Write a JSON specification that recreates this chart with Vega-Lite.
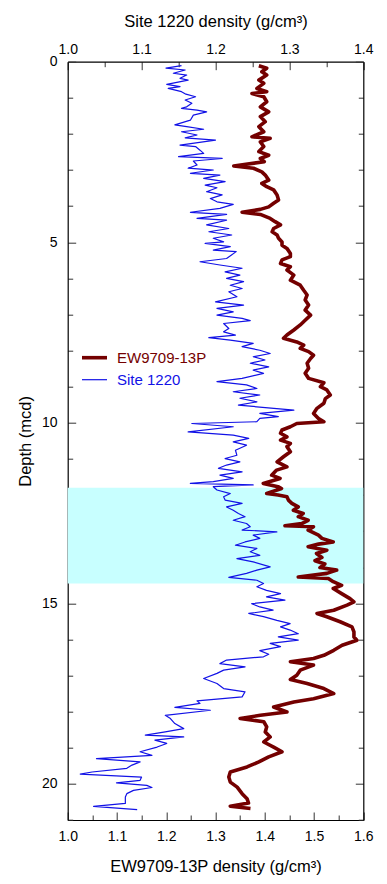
{
  "$schema": "https://vega.github.io/schema/vega-lite/v6.json",
  "width": 295.6,
  "height": 758.3,
  "autosize": "none",
  "padding": {"left": 67.7, "top": 61.7, "right": 23.7, "bottom": 64},
  "config": {
    "font": "Liberation Sans",
    "view": {"stroke": null},
    "axis": {
      "domainColor": "#000", "domainWidth": 1.2, "tickColor": "#333", "tickWidth": 1,
      "labelFont": "Liberation Sans", "labelFontSize": 14, "labelColor": "#000",
      "titleFont": "Liberation Sans", "titleFontSize": 16.5, "titleFontWeight": "normal", "titleColor": "#000",
      "grid": false, "labelFlush": false, "labelOverlap": false, "zindex": 1
    },
    "legend": {
      "orient": "none", "legendX": 12.3, "legendY": 281.5, "title": null,
      "symbolType": "stroke", "symbolSize": 625, "labelFont": "Liberation Sans", "labelFontSize": 15,
      "labelOffset": 8, "rowPadding": -1, "padding": 0
    }
  },
  "datasets": {
    "ew": [
      {"depth":0.11,"density":1.388},{"depth":0.18,"density":1.404},{"depth":0.28,"density":1.394},{"depth":0.37,"density":1.404},{"depth":0.51,"density":1.388},{"depth":0.60,"density":1.398},{"depth":0.74,"density":1.384},{"depth":0.83,"density":1.404},{"depth":0.88,"density":1.374},{"depth":0.97,"density":1.398},
      {"depth":1.11,"density":1.404},{"depth":1.25,"density":1.391},{"depth":1.39,"density":1.408},{"depth":1.52,"density":1.391},{"depth":1.66,"density":1.401},{"depth":1.80,"density":1.388},{"depth":1.94,"density":1.398},{"depth":2.08,"density":1.374},{"depth":2.12,"density":1.411},{"depth":2.22,"density":1.391},
      {"depth":2.35,"density":1.398},{"depth":2.49,"density":1.388},{"depth":2.59,"density":1.408},{"depth":2.68,"density":1.391},{"depth":2.77,"density":1.399},{"depth":2.89,"density":1.337},{"depth":2.95,"density":1.377},{"depth":3.05,"density":1.394},{"depth":3.14,"density":1.401},{"depth":3.28,"density":1.408},
      {"depth":3.37,"density":1.394},{"depth":3.46,"density":1.404},{"depth":3.55,"density":1.418},{"depth":3.69,"density":1.425},{"depth":3.83,"density":1.428},{"depth":3.92,"density":1.418},{"depth":4.02,"density":1.408},{"depth":4.09,"density":1.391},{"depth":4.17,"density":1.354},{"depth":4.23,"density":1.391},
      {"depth":4.34,"density":1.411},{"depth":4.43,"density":1.421},{"depth":4.52,"density":1.432},{"depth":4.62,"density":1.418},{"depth":4.71,"density":1.415},{"depth":4.80,"density":1.425},{"depth":4.89,"density":1.428},{"depth":4.99,"density":1.435},{"depth":5.08,"density":1.435},{"depth":5.17,"density":1.445},
      {"depth":5.31,"density":1.452},{"depth":5.40,"density":1.452},{"depth":5.49,"density":1.435},{"depth":5.59,"density":1.432},{"depth":5.68,"density":1.452},{"depth":5.77,"density":1.445},{"depth":5.91,"density":1.459},{"depth":6.05,"density":1.452},{"depth":6.19,"density":1.472},{"depth":6.33,"density":1.479},
      {"depth":6.46,"density":1.486},{"depth":6.60,"density":1.482},{"depth":6.74,"density":1.489},{"depth":6.88,"density":1.482},{"depth":7.02,"density":1.493},{"depth":7.16,"density":1.482},{"depth":7.29,"density":1.472},{"depth":7.43,"density":1.459},{"depth":7.57,"density":1.445},{"depth":7.66,"density":1.438},
      {"depth":7.76,"density":1.465},{"depth":7.85,"density":1.479},{"depth":7.94,"density":1.472},{"depth":8.03,"density":1.489},{"depth":8.13,"density":1.499},{"depth":8.22,"density":1.493},{"depth":8.35,"density":1.486},{"depth":8.49,"density":1.489},{"depth":8.63,"density":1.482},{"depth":8.77,"density":1.489},
      {"depth":8.89,"density":1.520},{"depth":9.00,"density":1.513},{"depth":9.09,"density":1.526},{"depth":9.23,"density":1.533},{"depth":9.33,"density":1.523},{"depth":9.46,"density":1.520},{"depth":9.60,"density":1.506},{"depth":9.74,"density":1.499},{"depth":9.88,"density":1.509},{"depth":9.97,"density":1.520},
      {"depth":10.02,"density":1.465},{"depth":10.11,"density":1.452},{"depth":10.20,"density":1.435},{"depth":10.29,"density":1.432},{"depth":10.39,"density":1.445},{"depth":10.48,"density":1.432},{"depth":10.57,"density":1.452},{"depth":10.66,"density":1.445},{"depth":10.80,"density":1.452},{"depth":10.94,"density":1.438},
      {"depth":11.08,"density":1.425},{"depth":11.22,"density":1.445},{"depth":11.31,"density":1.424},{"depth":11.45,"density":1.414},{"depth":11.54,"density":1.431},{"depth":11.68,"density":1.397},{"depth":11.77,"density":1.427},{"depth":11.82,"density":1.434},{"depth":11.96,"density":1.404},{"depth":12.00,"density":1.427},
      {"depth":12.05,"density":1.445},{"depth":12.14,"density":1.448},{"depth":12.23,"density":1.455},{"depth":12.33,"density":1.468},{"depth":12.42,"density":1.458},{"depth":12.51,"density":1.478},{"depth":12.60,"density":1.468},{"depth":12.70,"density":1.488},{"depth":12.79,"density":1.475},{"depth":12.85,"density":1.441},
      {"depth":12.88,"density":1.499},{"depth":12.97,"density":1.488},{"depth":13.11,"density":1.509},{"depth":13.20,"density":1.516},{"depth":13.30,"density":1.539},{"depth":13.36,"density":1.509},{"depth":13.43,"density":1.488},{"depth":13.53,"density":1.526},{"depth":13.62,"density":1.505},{"depth":13.73,"density":1.516},
      {"depth":13.82,"density":1.502},{"depth":13.91,"density":1.522},{"depth":14.01,"density":1.512},{"depth":14.08,"density":1.546},{"depth":14.17,"density":1.526},{"depth":14.27,"density":1.468},{"depth":14.31,"density":1.529},{"depth":14.40,"density":1.539},{"depth":14.50,"density":1.556},{"depth":14.59,"density":1.539},
      {"depth":14.73,"density":1.556},{"depth":14.87,"density":1.573},{"depth":14.96,"density":1.581},{"depth":15.05,"density":1.567},{"depth":15.19,"density":1.540},{"depth":15.28,"density":1.506},
      {"depth":15.37,"density":1.526},{"depth":15.51,"density":1.553},{"depth":15.65,"density":1.577},{"depth":15.79,"density":1.581},{"depth":15.93,"density":1.581},{"depth":16.02,"density":1.587},{"depth":16.16,"density":1.557},{"depth":16.30,"density":1.540},{"depth":16.44,"density":1.520},{"depth":16.53,"density":1.499},
      {"depth":16.62,"density":1.452},{"depth":16.71,"density":1.499},{"depth":16.85,"density":1.472},{"depth":16.99,"density":1.465},{"depth":17.11,"density":1.452},{"depth":17.22,"density":1.486},{"depth":17.36,"density":1.520},{"depth":17.50,"density":1.540},{"depth":17.64,"density":1.499},{"depth":17.73,"density":1.459},
      {"depth":17.87,"density":1.418},{"depth":18.01,"density":1.445},{"depth":18.10,"density":1.391},{"depth":18.19,"density":1.350},{"depth":18.28,"density":1.398},{"depth":18.42,"density":1.404},{"depth":18.56,"density":1.401},{"depth":18.70,"density":1.411},{"depth":18.84,"density":1.398},{"depth":18.98,"density":1.418},
      {"depth":19.11,"density":1.435},{"depth":19.25,"density":1.408},{"depth":19.39,"density":1.388},{"depth":19.53,"density":1.364},{"depth":19.67,"density":1.330},{"depth":19.81,"density":1.327},{"depth":19.95,"density":1.330},{"depth":20.09,"density":1.344},{"depth":20.27,"density":1.354},{"depth":20.41,"density":1.364},
      {"depth":20.53,"density":1.367},{"depth":20.62,"density":1.330},{"depth":20.68,"density":1.371}
    ],
    "site": [
      {"depth":0.11,"density":1.154},{"depth":0.18,"density":1.133},{"depth":0.23,"density":1.159},{"depth":0.32,"density":1.143},{"depth":0.37,"density":1.161},{"depth":0.46,"density":1.152},{"depth":0.51,"density":1.163},{"depth":0.63,"density":1.134},{"depth":0.69,"density":1.152},{"depth":0.74,"density":1.136},
      {"depth":0.83,"density":1.154},{"depth":0.90,"density":1.160},{"depth":0.97,"density":1.173},{"depth":1.06,"density":1.159},{"depth":1.15,"density":1.168},{"depth":1.25,"density":1.161},{"depth":1.29,"density":1.154},{"depth":1.34,"density":1.175},{"depth":1.39,"density":1.188},{"depth":1.48,"density":1.170},
      {"depth":1.62,"density":1.166},{"depth":1.75,"density":1.145},{"depth":1.80,"density":1.161},{"depth":1.87,"density":1.184},{"depth":1.94,"density":1.154},{"depth":2.03,"density":1.175},{"depth":2.11,"density":1.159},{"depth":2.17,"density":1.200},{"depth":2.31,"density":1.152},{"depth":2.35,"density":1.173},
      {"depth":2.45,"density":1.179},{"depth":2.54,"density":1.184},{"depth":2.63,"density":1.150},{"depth":2.68,"density":1.209},{"depth":2.75,"density":1.170},{"depth":2.86,"density":1.175},{"depth":2.95,"density":1.163},{"depth":3.00,"density":1.197},{"depth":3.09,"density":1.166},{"depth":3.14,"density":1.206},
      {"depth":3.23,"density":1.184},{"depth":3.32,"density":1.213},{"depth":3.42,"density":1.186},{"depth":3.49,"density":1.202},{"depth":3.60,"density":1.188},{"depth":3.69,"density":1.209},{"depth":3.79,"density":1.193},{"depth":3.88,"density":1.202},{"depth":3.95,"density":1.224},{"depth":4.06,"density":1.206},
      {"depth":4.17,"density":1.166},{"depth":4.23,"density":1.215},{"depth":4.34,"density":1.175},{"depth":4.39,"density":1.215},{"depth":4.52,"density":1.188},{"depth":4.62,"density":1.218},{"depth":4.71,"density":1.191},{"depth":4.80,"density":1.222},{"depth":4.89,"density":1.197},{"depth":4.99,"density":1.211},
      {"depth":5.03,"density":1.186},{"depth":5.12,"density":1.220},{"depth":5.22,"density":1.197},{"depth":5.26,"density":1.228},{"depth":5.45,"density":1.215},{"depth":5.54,"density":1.179},{"depth":5.63,"density":1.206},{"depth":5.72,"density":1.236},{"depth":5.82,"density":1.213},{"depth":5.91,"density":1.233},
      {"depth":6.00,"density":1.215},{"depth":6.09,"density":1.238},{"depth":6.19,"density":1.220},{"depth":6.28,"density":1.236},{"depth":6.37,"density":1.218},{"depth":6.51,"density":1.229},{"depth":6.65,"density":1.200},{"depth":6.74,"density":1.238},{"depth":6.83,"density":1.202},{"depth":6.93,"density":1.224},
      {"depth":7.02,"density":1.202},{"depth":7.11,"density":1.236},{"depth":7.17,"density":1.247},{"depth":7.25,"density":1.211},{"depth":7.39,"density":1.218},{"depth":7.48,"density":1.211},{"depth":7.57,"density":1.227},{"depth":7.64,"density":1.191},{"depth":7.71,"density":1.220},{"depth":7.80,"density":1.251},
      {"depth":7.89,"density":1.236},{"depth":7.99,"density":1.260},{"depth":8.08,"density":1.274},{"depth":8.17,"density":1.251},{"depth":8.26,"density":1.267},{"depth":8.35,"density":1.247},{"depth":8.45,"density":1.272},{"depth":8.54,"density":1.251},{"depth":8.63,"density":1.265},{"depth":8.77,"density":1.236},
      {"depth":8.86,"density":1.202},{"depth":8.95,"density":1.242},{"depth":9.05,"density":1.256},{"depth":9.14,"density":1.224},{"depth":9.23,"density":1.260},{"depth":9.32,"density":1.233},{"depth":9.42,"density":1.256},{"depth":9.51,"density":1.231},{"depth":9.60,"density":1.279},{"depth":9.65,"density":1.306},
      {"depth":9.74,"density":1.260},{"depth":9.83,"density":1.285},{"depth":9.88,"density":1.260},{"depth":9.97,"density":1.256},{"depth":10.02,"density":1.168},{"depth":10.11,"density":1.224},{"depth":10.25,"density":1.163},{"depth":10.34,"density":1.224},{"depth":10.43,"density":1.245},{"depth":10.53,"density":1.224},
      {"depth":10.62,"density":1.242},{"depth":10.76,"density":1.227},{"depth":10.90,"density":1.229},{"depth":10.99,"density":1.213},{"depth":11.08,"density":1.233},{"depth":11.17,"density":1.215},{"depth":11.26,"density":1.204},{"depth":11.36,"density":1.236},{"depth":11.45,"density":1.206},{"depth":11.54,"density":1.224},
      {"depth":11.63,"density":1.197},{"depth":11.68,"density":1.166},{"depth":11.72,"density":1.251},{"depth":11.77,"density":1.197},{"depth":11.86,"density":1.202},{"depth":11.96,"density":1.220},{"depth":12.05,"density":1.211},{"depth":12.14,"density":1.213},{"depth":12.23,"density":1.236},{"depth":12.33,"density":1.215},
      {"depth":12.42,"density":1.224},{"depth":12.51,"density":1.231},{"depth":12.60,"density":1.240},{"depth":12.70,"density":1.224},{"depth":12.79,"density":1.242},{"depth":12.88,"density":1.247},{"depth":12.97,"density":1.236},{"depth":13.02,"density":1.283},{"depth":13.11,"density":1.251},{"depth":13.20,"density":1.260},
      {"depth":13.30,"density":1.240},{"depth":13.39,"density":1.227},{"depth":13.48,"density":1.256},{"depth":13.57,"density":1.247},{"depth":13.67,"density":1.260},{"depth":13.76,"density":1.229},{"depth":13.85,"density":1.251},{"depth":13.99,"density":1.274},{"depth":14.08,"density":1.256},{"depth":14.17,"density":1.242},
      {"depth":14.28,"density":1.218},{"depth":14.36,"density":1.256},{"depth":14.45,"density":1.265},{"depth":14.54,"density":1.256},{"depth":14.64,"density":1.269},{"depth":14.73,"density":1.288},{"depth":14.82,"density":1.269},{"depth":14.91,"density":1.294},{"depth":15.01,"density":1.249},{"depth":15.10,"density":1.260},
      {"depth":15.19,"density":1.278},{"depth":15.28,"density":1.245},{"depth":15.37,"density":1.265},{"depth":15.47,"density":1.283},{"depth":15.56,"density":1.301},{"depth":15.65,"density":1.288},{"depth":15.74,"density":1.301},{"depth":15.84,"density":1.312},{"depth":15.93,"density":1.285},{"depth":16.02,"density":1.312},
      {"depth":16.11,"density":1.274},{"depth":16.20,"density":1.288},{"depth":16.31,"density":1.260},{"depth":16.41,"density":1.272},{"depth":16.48,"density":1.265},{"depth":16.57,"density":1.215},{"depth":16.67,"density":1.206},{"depth":16.76,"density":1.240},{"depth":16.85,"density":1.211},{"depth":16.94,"density":1.202},
      {"depth":17.08,"density":1.184},{"depth":17.22,"density":1.202},{"depth":17.36,"density":1.211},{"depth":17.45,"density":1.240},{"depth":17.59,"density":1.236},{"depth":17.70,"density":1.175},{"depth":17.77,"density":1.179},{"depth":17.88,"density":1.145},{"depth":17.96,"density":1.193},{"depth":18.10,"density":1.132},
      {"depth":18.19,"density":1.139},{"depth":18.33,"density":1.145},{"depth":18.47,"density":1.157},{"depth":18.56,"density":1.132},{"depth":18.65,"density":1.105},{"depth":18.70,"density":1.157},{"depth":18.79,"density":1.118},{"depth":18.88,"density":1.134},{"depth":18.98,"density":1.121},{"depth":19.11,"density":1.098},
      {"depth":19.21,"density":1.114},{"depth":19.30,"density":1.039},{"depth":19.39,"density":1.098},{"depth":19.48,"density":1.087},{"depth":19.57,"density":1.080},{"depth":19.67,"density":1.033},{"depth":19.73,"density":1.017},{"depth":19.81,"density":1.100},{"depth":19.90,"density":1.098},{"depth":19.97,"density":1.066},
      {"depth":20.04,"density":1.107},{"depth":20.10,"density":1.114},{"depth":20.18,"density":1.089},{"depth":20.27,"density":1.080},{"depth":20.36,"density":1.078},{"depth":20.54,"density":1.078},{"depth":20.62,"density":1.035},{"depth":20.71,"density":1.094}
    ]
  },
  "layer": [
    {
      "data": {"values": [{"top": 11.8, "bottom": 14.45}]},
      "mark": {"type": "rect", "color": "#c8ffff"},
      "encoding": {
        "y": {"field": "top", "type": "quantitative", "scale": {"domain": [0, 21], "reverse": true, "nice": false, "zero": false}, "axis": null},
        "y2": {"field": "bottom"}
      }
    },
    {
      "data": {"name": "ew"},
      "transform": [{"calculate": "'EW9709-13P'", "as": "series"}],
      "mark": {"type": "line", "strokeJoin": "round", "strokeCap": "butt"},
      "encoding": {
        "x": {
          "field": "density", "type": "quantitative",
          "scale": {"domain": [1.0, 1.6], "nice": false, "zero": false},
          "axis": {
            "orient": "bottom", "title": "EW9709-13P density (g/cm³)",
            "values": [1, 1.05, 1.1, 1.15, 1.2, 1.25, 1.3, 1.35, 1.4, 1.45, 1.5, 1.55, 1.6],
            "tickSize": {"condition": {"test": "round(datum.value*20) % 2 === 0", "value": -8}, "value": -5},
            "labelExpr": "round(datum.value*20) % 2 === 0 ? format(datum.value, '.1f') : ''",
            "labelPadding": 17.6, "titlePadding": 12
          }
        },
        "y": {
          "field": "depth", "type": "quantitative",
          "scale": {"domain": [0, 21], "reverse": true, "nice": false, "zero": false},
          "axis": {
            "orient": "left", "title": "Depth (mcd)",
            "values": [0,1,2,3,4,5,6,7,8,9,10,11,12,13,14,15,16,17,18,19,20,21],
            "tickSize": {"condition": {"test": "datum.value % 5 === 0", "value": -8}, "value": -5},
            "labelExpr": "datum.value % 5 === 0 ? datum.label : ''",
            "labelPadding": 18.7, "titlePadding": 8
          }
        },
        "order": {"field": "depth", "type": "quantitative"},
        "color": {"field": "series", "type": "nominal", "scale": {"domain": ["EW9709-13P", "Site 1220"], "range": ["#740000", "#1212e6"]},
          "legend": {"encode": {"labels": {"update": {"fill": {"scale": "color", "field": "value"}}}}}},
        "strokeWidth": {"field": "series", "type": "nominal", "scale": {"domain": ["EW9709-13P", "Site 1220"], "range": [3.6, 1.2]}}
      }
    },
    {
      "data": {"name": "site"},
      "transform": [{"calculate": "'Site 1220'", "as": "series"}],
      "mark": {"type": "line", "strokeJoin": "round"},
      "encoding": {
        "x": {
          "field": "density", "type": "quantitative",
          "scale": {"domain": [1.0, 1.4], "nice": false, "zero": false},
          "axis": {
            "orient": "top", "title": "Site 1220 density (g/cm³)",
            "values": [1, 1.05, 1.1, 1.15, 1.2, 1.25, 1.3, 1.35, 1.4],
            "tickSize": {"condition": {"test": "round(datum.value*20) % 2 === 0", "value": -8}, "value": -5},
            "labelExpr": "round(datum.value*20) % 2 === 0 ? format(datum.value, '.1f') : ''",
            "labelPadding": 13.5, "titlePadding": 10
          }
        },
        "y": {
          "field": "depth", "type": "quantitative",
          "scale": {"domain": [0, 21], "reverse": true, "nice": false, "zero": false},
          "axis": {
            "orient": "right", "title": null, "labels": false,
            "values": [0,1,2,3,4,5,6,7,8,9,10,11,12,13,14,15,16,17,18,19,20,21],
            "tickSize": {"condition": {"test": "datum.value % 5 === 0", "value": -8}, "value": -5}
          }
        },
        "order": {"field": "depth", "type": "quantitative"},
        "color": {"field": "series", "type": "nominal"},
        "strokeWidth": {"field": "series", "type": "nominal"}
      }
    }
  ],
  "resolve": {"scale": {"x": "independent"}, "axis": {"x": "independent", "y": "independent"}}
}
